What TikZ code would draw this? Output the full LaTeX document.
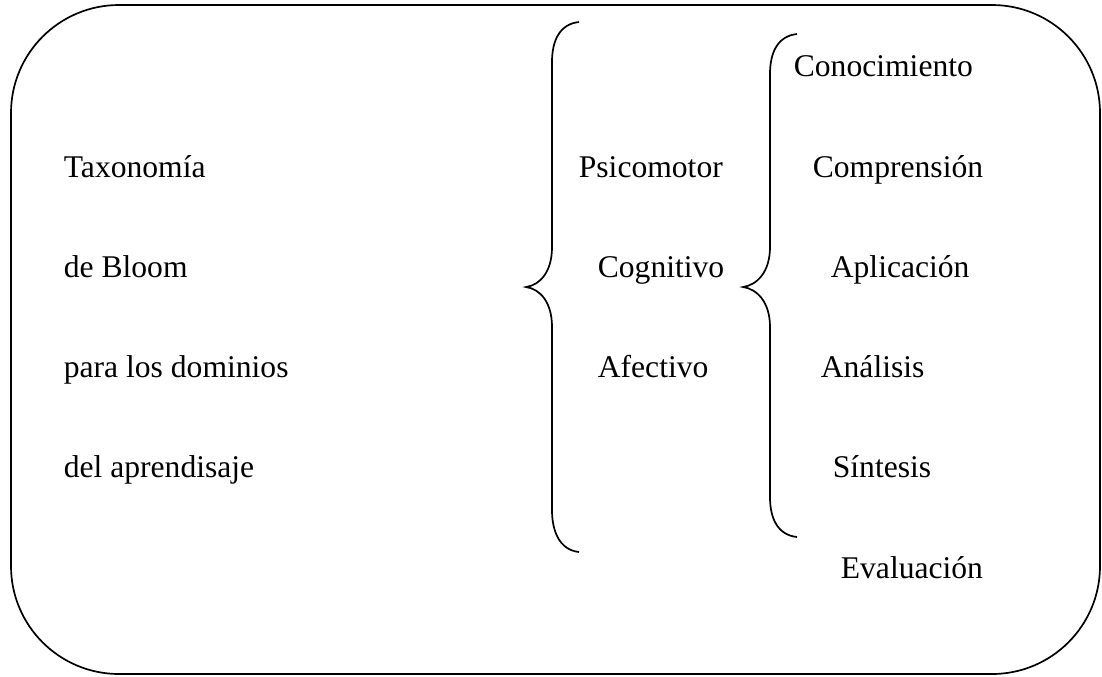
\documentclass[tikz,border=0pt]{standalone}
\usepackage{fontspec}
\setmainfont{Liberation Serif}
\begin{document}
\begin{tikzpicture}[x=0.5pt, y=-0.5pt, line width=0.85pt,
          every node/.style = {inner sep=0pt, anchor=base west, font=\fontsize{15.8}{19}\selectfont}]
          \useasboundingbox (0,0) rectangle (1102,676);
          \draw[rounded corners=54pt] (11,5) rectangle (1100,674);
          % left column
          \node (tax) at (63,177) {Taxonomía};
          \node (bloom) at (63,277) {de Bloom};
          \node (dom) at (63,377) {para los dominios};
          \node (apr) at (63,477) {del aprendisaje};
          % domains
          \draw (579,22) .. controls (560,24) and (552,40) .. (552,62) -- (552,247)
                .. controls (552,272) and (540,285) .. (526,287)
                .. controls (540,289) and (552,302) .. (552,327) -- (552,510)
                .. controls (552,532) and (560,550) .. (579,552);
          \node (psi) at (578,177) {Psicomotor};
          \node (cog) at (597,277) {Cognitivo};
          \node (afe) at (597,377) {Afectivo};
          % levels
          \draw (797,34) .. controls (778,36) and (770,52) .. (770,74) -- (770,247)
                .. controls (770,272) and (757,285) .. (743,287)
                .. controls (757,289) and (770,302) .. (770,327) -- (770,497)
                .. controls (770,519) and (778,535) .. (797,537);
          \node (con) at (793,76) {Conocimiento};
          \node (com) at (812,177) {Comprensión};
          \node (apl) at (830,277) {Aplicación};
          \node (ana) at (820,377) {Análisis};
          \node (sin) at (832,477) {Síntesis};
          \node (eva) at (840,578) {Evaluación};
\end{tikzpicture}
\end{document}
